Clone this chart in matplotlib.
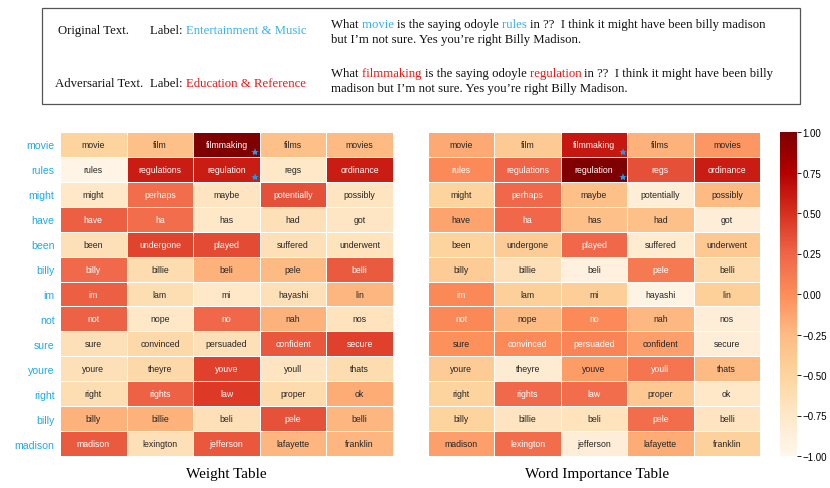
import matplotlib
matplotlib.use("Agg")
import matplotlib.pyplot as plt
import numpy as np
from matplotlib.patches import Rectangle

# ---- data ----
rows = ["movie", "rules", "might", "have", "been", "billy", "im", "not",
        "sure", "youre", "right", "billy", "madison"]

subs = [
    ["movie", "film", "filmmaking", "films", "movies"],
    ["rules", "regulations", "regulation", "regs", "ordinance"],
    ["might", "perhaps", "maybe", "potentially", "possibly"],
    ["have", "ha", "has", "had", "got"],
    ["been", "undergone", "played", "suffered", "underwent"],
    ["billy", "billie", "beli", "pele", "belli"],
    ["im", "lam", "mi", "hayashi", "lin"],
    ["not", "nope", "no", "nah", "nos"],
    ["sure", "convinced", "persuaded", "confident", "secure"],
    ["youre", "theyre", "youve", "youll", "thats"],
    ["right", "rights", "law", "proper", "ok"],
    ["billy", "billie", "beli", "pele", "belli"],
    ["madison", "lexington", "jefferson", "lafayette", "franklin"],
]

weight = [
    [-0.50, -0.30, 1.00, -0.30, -0.25],
    [-0.95, 0.60, 0.60, -0.75, 0.60],
    [-0.75, 0.20, -0.70, 0.35, -0.70],
    [0.28, 0.20, -0.75, -0.65, -0.72],
    [-0.65, 0.40, 0.37, -0.65, -0.68],
    [0.22, -0.60, -0.20, -0.25, 0.30],
    [0.28, -0.62, -0.75, -0.65, -0.22],
    [0.27, -0.75, 0.23, -0.20, -0.68],
    [-0.65, -0.57, -0.65, 0.32, 0.42],
    [-0.65, -0.57, 0.42, -0.70, -0.60],
    [-0.62, 0.27, 0.45, -0.58, -0.17],
    [-0.20, -0.20, -0.65, 0.34, -0.22],
    [0.30, -0.65, 0.32, -0.22, -0.22],
]

importance = [
    [-0.15, -0.40, 0.62, -0.20, -0.05],
    [0.02, 0.25, 1.00, 0.35, 0.60],
    [-0.50, 0.24, -0.30, -0.85, -0.25],
    [-0.12, 0.24, -0.30, -0.30, -0.85],
    [-0.50, -0.42, 0.24, -0.80, -0.38],
    [-0.42, -0.65, -0.90, 0.12, -0.60],
    [0.03, -0.45, -0.43, -0.93, -0.45],
    [0.03, -0.25, 0.02, -0.23, -0.85],
    [-0.02, 0.02, 0.05, -0.10, -0.85],
    [-0.42, -0.82, -0.08, 0.15, -0.25],
    [-0.50, 0.22, 0.20, -0.38, -0.75],
    [-0.50, -0.70, -0.68, 0.20, -0.70],
    [-0.10, 0.20, -0.85, -0.17, -0.47],
]

starred = [(0, 2), (1, 2)]
cbar_ticks = [-1.0, -0.75, -0.5, -0.25, 0.0, 0.25, 0.5, 0.75, 1.0]

BLUE = "#1eaaea"
TXT_BLUE = "#3cb0ee"
RED = "#ee1515"
SANS = "Liberation Sans"
SERIF = "Liberation Serif"

W, H = 830, 489
fig = plt.figure(figsize=(W / 100, H / 100), dpi=100)
cmap = plt.get_cmap("OrRd")


def px_axes(x0, y0, x1, y1, **kw):
    return fig.add_axes([x0 / W, 1 - y1 / H, (x1 - x0) / W, (y1 - y0) / H], **kw)


def text_color(rgba):
    rgb = np.asarray(rgba[:3])
    rgb = np.where(rgb <= 0.03928, rgb / 12.92, ((rgb + 0.055) / 1.055) ** 2.4)
    lum = rgb.dot([0.2126, 0.7152, 0.0722])
    return ".15" if lum > 0.408 else "w"


def heatmap(ax, vals, show_rows):
    vals = np.array(vals)
    mesh = ax.pcolormesh(np.arange(6), np.arange(14), vals, cmap=cmap,
                         vmin=-1, vmax=1, edgecolors="white", linewidth=0.5)
    ax.set_xlim(0, 5)
    ax.set_ylim(13, 0)
    for i in range(vals.shape[0]):
        for j in range(vals.shape[1]):
            c = text_color(cmap((vals[i, j] + 1) / 2))
            ax.text(j + 0.5, i + 0.5, subs[i][j], ha="center", va="center",
                    fontsize=6.3, family=SANS, color=c)
    for (i, j) in starred:
        ax.plot(j + 0.93, i + 0.82, marker="*", color="#1a9be6",
                markersize=6, markeredgewidth=0)
    for s in ax.spines.values():
        s.set_visible(False)
    ax.set_xticks([])
    if show_rows:
        ax.set_yticks(np.arange(13) + 0.5)
        ax.set_yticklabels(rows, fontsize=7.6, family=SANS, color=BLUE)
        ax.tick_params(axis="y", length=0, pad=4)
    else:
        ax.set_yticks([])
    return mesh


ax1 = px_axes(60, 133, 393, 457)
ax2 = px_axes(428, 133, 760, 457)
cax = px_axes(780, 133, 797, 457)

m1 = heatmap(ax1, weight, True)
m2 = heatmap(ax2, importance, False)

cb = fig.colorbar(m2, cax=cax)
cb.outline.set_visible(False)
cb.set_ticks(cbar_ticks)
cb.set_ticklabels([f"{t:.2f}".replace("-", "\u2212") for t in cbar_ticks])
cax.tick_params(labelsize=7, length=3, width=0.6, pad=1)
for lab in cax.get_yticklabels():
    lab.set_family(SANS)

fig.text(226 / W, 1 - 475 / H, "Weight Table", ha="center", va="center",
         fontsize=11, family=SERIF)
fig.text(597 / W, 1 - 475 / H, "Word Importance Table", ha="center",
         va="center", fontsize=11, family=SERIF)

# ---- text box at the top ----
bx = fig.add_axes([0, 0, 1, 1], zorder=-1)
bx.set_xlim(0, W)
bx.set_ylim(H, 0)
bx.axis("off")
bx.add_patch(Rectangle((42, 9), 758, 96, fill=False, edgecolor="#555555",
                       linewidth=0.9))


def colored_line(x, y, pieces, size=9.15):
    t = bx.text(x, y, pieces[0][0], color=pieces[0][1], fontsize=size,
                family=SERIF, va="baseline", ha="left")
    for s, c in pieces[1:]:
        t = bx.annotate(s, xy=(1, 0), xycoords=t, va="bottom", ha="left",
                        color=c, fontsize=size, family=SERIF)


K = "#111111"
colored_line(58, 34, [("Original Text.", K)])
colored_line(150, 34, [("Label: ", K), ("Entertainment & Music", TXT_BLUE)])
colored_line(331, 28, [("What ", K), ("movie ", TXT_BLUE),
                       ("is the saying odoyle ", K), ("rules ", TXT_BLUE),
                       ("in ??  I think it might have been billy madison", K)])
colored_line(331, 43, [("but I\u2019m not sure. Yes you\u2019re right Billy Madison.", K)])

colored_line(55, 87, [("Adversarial Text.", K)])
colored_line(150, 87, [("Label: ", K), ("Education & Reference", RED)])
colored_line(331, 77, [("What ", K), ("filmmaking ", RED),
                       ("is the saying odoyle ", K), ("regulation ", RED),
                       ("in ??  I think it might have been billy", K)])
colored_line(331, 92, [("madison but I\u2019m not sure. Yes you\u2019re right Billy Madison.", K)])

fig.savefig("out.png", dpi=100)
